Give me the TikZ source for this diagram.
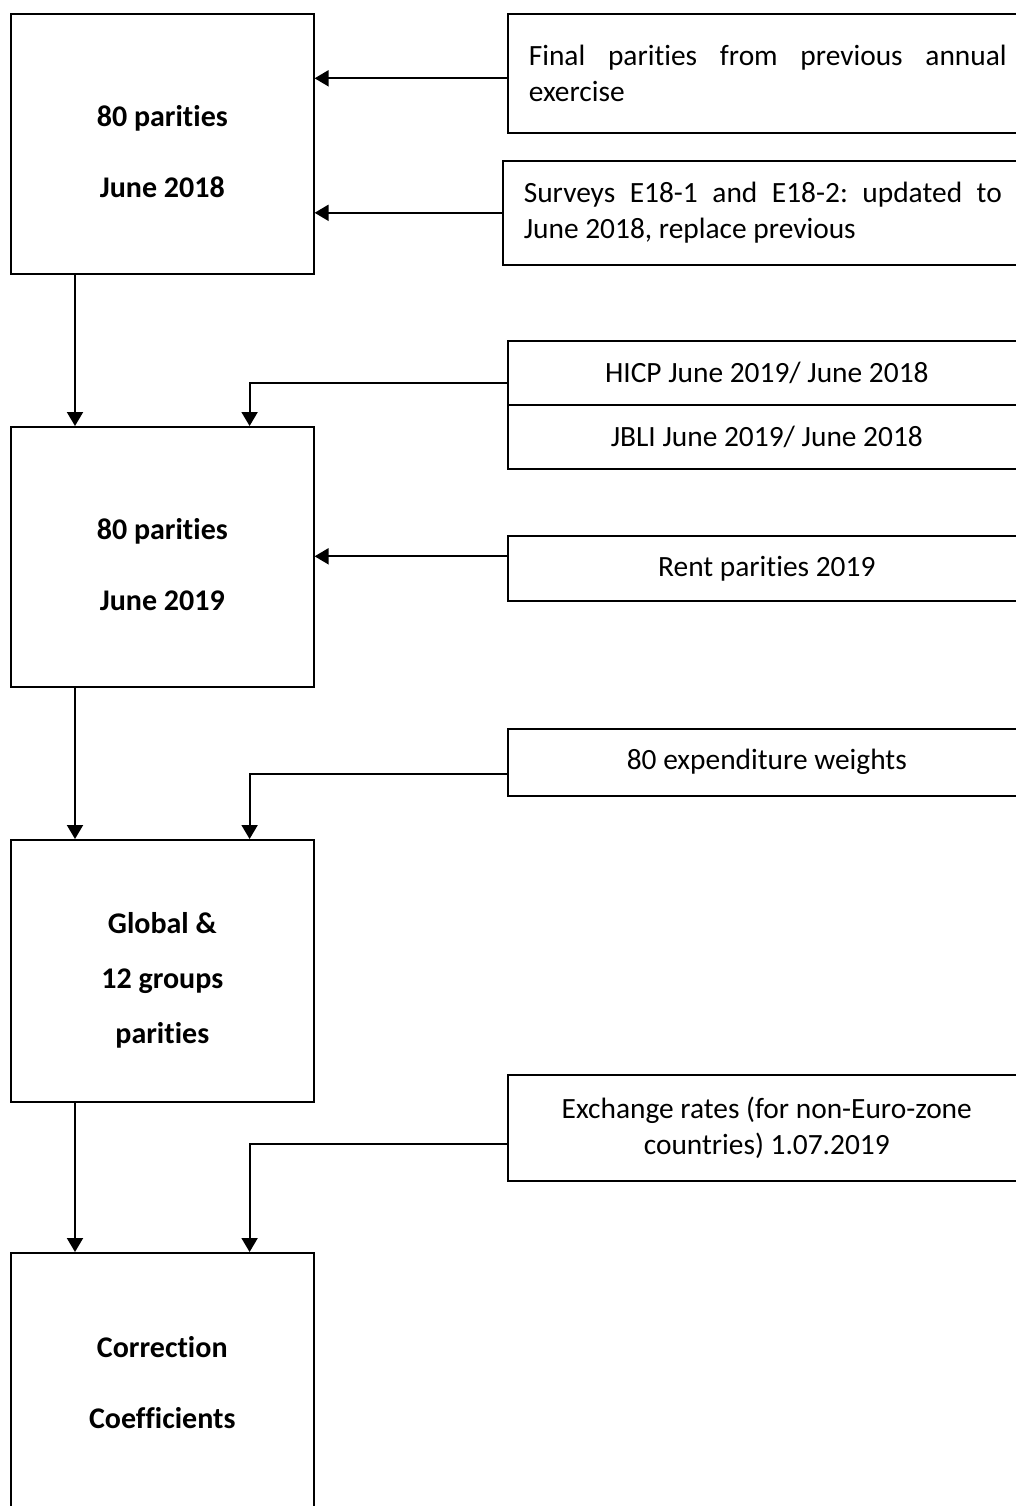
\documentclass[tikz,border=0pt]{standalone}
\usepackage{fontspec}
\setmainfont[Ligatures=NoCommon]{Carlito}
\frenchspacing
\usetikzlibrary{arrows.meta,calc}

\tikzset{
  mainbox/.style={draw, line width=0.8pt, anchor=north west, minimum width=151.5pt, minimum height=130pt, align=center, font=\fontsize{15}{18}\selectfont\bfseries},
  inbox/.style={draw, line width=0.8pt, anchor=north west, minimum width=259pt, align=center, font=\fontsize{14.7}{18}\selectfont},
  textbox/.style={draw, line width=0.8pt, anchor=north west, text width=239pt, inner xsep=10.5pt, align=justify, font=\fontsize{14.7}{18}\selectfont},
  arr/.style={-{Triangle[width=8pt,length=7pt]}, line width=1pt}
}

\begin{document}
\begin{tikzpicture}[x=0.5pt,y=-0.5pt]
    \useasboundingbox (0,0) rectangle (1016,1506);
    \clip (0,0) rectangle (1016,1506);

    % Left column
    \node[mainbox] (jun18) at (10,13) {\rule{0pt}{18pt}80 parities\\[17.5pt]June 2018};
    \node[mainbox] (jun19) at (10,426) {\rule{0pt}{18pt}80 parities\\[17.5pt]June 2019};
    \node[mainbox, minimum height=131pt] (glob) at (10,839) {\rule{0pt}{20pt}Global \&\\[9.5pt]12 groups\\[9.5pt]parities};
    \node[mainbox] (cc) at (10,1252) {Correction\\[17.5pt]Coefficients};

    % Inputs
    \node[textbox, minimum height=59.5pt] (fin) at (507,13) {Final parities from previous annual\linebreak exercise};
    \node[textbox, minimum height=52pt] (surv) at (502,160) {Surveys E18-1 and E18-2: updated to\linebreak June 2018, replace previous};
    \node[inbox, minimum height=32pt] (hicp) at (507,340) {HICP June 2019/ June 2018};
    \node[inbox, minimum height=32pt] (jbli) at (507,404) {JBLI June 2019/ June 2018};
    \node[inbox, minimum height=32.5pt] (rent) at (507,535) {Rent parities 2019};
    \node[inbox, minimum height=33.5pt] (wts) at (507,728) {80 expenditure weights};
    \node[inbox, minimum height=53pt] (exch) at (507,1074) {Exchange rates (for non-Euro-zone\\countries) 1.07.2019};

    % Connectors
    \draw[arr] ([yshift=-2.5pt]fin.west) -- ([yshift=-2.5pt]fin.west -| jun18.east);
    \draw[arr] (surv.west) -- (surv.west -| jun18.east);
    \draw[arr] ([yshift=-5pt]hicp.west) -| ([xshift=-32.5pt]jun19.north east);
    \draw[arr] ([yshift=6pt]rent.west) -- ([yshift=6pt]rent.west -| jun19.east);
    \draw[arr] ([yshift=-6pt]wts.west) -| ([xshift=-32.5pt]glob.north east);
    \draw[arr] ([yshift=-8pt]exch.west) -| ([xshift=-32.5pt]cc.north east);
    \draw[arr] ([xshift=32.5pt]jun18.south west) -- ([xshift=32.5pt]jun19.north west);
    \draw[arr] ([xshift=32.5pt]jun19.south west) -- ([xshift=32.5pt]glob.north west);
    \draw[arr] ([xshift=32.5pt]glob.south west) -- ([xshift=32.5pt]cc.north west);
\end{tikzpicture}
\end{document}
